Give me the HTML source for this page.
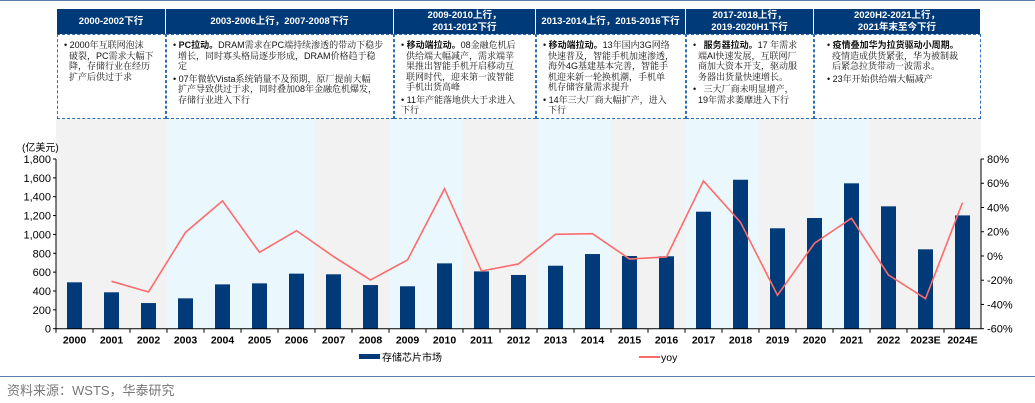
<!DOCTYPE html>
<html><head><meta charset="utf-8">
<style>
body{margin:0;width:1035px;height:403px;background:#fff;position:relative;overflow:hidden;font-family:"Liberation Sans","Noto Sans CJK SC",sans-serif}
.hdr{position:absolute;top:9px;height:25px;background:#003a78;color:#fff;font-size:9.5px;font-weight:bold;display:flex;align-items:center;justify-content:center;text-align:center;line-height:12px;box-sizing:border-box;border-right:1px solid #fff}
.box{position:absolute;top:34px;height:85px;border:1px dashed #2e6db4;box-sizing:border-box;background:#fff;font-size:9px;line-height:10.5px;color:#111;padding:5px 4px 0 6px;white-space:nowrap;font-family:"Liberation Sans","Noto Serif CJK SC",serif}
.box b{font-family:"Liberation Sans","Noto Sans CJK SC",sans-serif}
.sp{height:2px}
svg{position:absolute;left:0;top:0}
</style></head><body>
<div style="position:absolute;left:0;top:0;width:1035px;height:1px;background:#5a80aa"></div>
<div class="hdr" style="left:57px;width:109px">2000-2002下行</div>
<div class="hdr" style="left:166px;width:228px">2003-2006上行，2007-2008下行</div>
<div class="hdr" style="left:394px;width:142px">2009-2010上行，<br>2011-2012下行</div>
<div class="hdr" style="left:536px;width:150px">2013-2014上行，2015-2016下行</div>
<div class="hdr" style="left:686px;width:128px">2017-2018上行，<br>2019-2020H1下行</div>
<div class="hdr" style="left:814px;width:167px">2020H2-2021上行，<br>2021年末至今下行</div>
<div class="box" style="left:57px;width:109px">• 2000年互联网泡沫<br>&nbsp;&nbsp;破裂，PC需求大幅下<br>&nbsp;&nbsp;降，存储行业在经历<br>&nbsp;&nbsp;扩产后供过于求</div>
<div class="box" style="left:166px;width:228px">• <b>PC拉动。</b>DRAM需求在PC端持续渗透的带动下稳步<br>&nbsp;&nbsp;增长，同时寡头格局逐步形成，DRAM价格趋于稳<br>&nbsp;&nbsp;定<div class="sp"></div>• 07年微软Vista系统销量不及预期，原厂提前大幅<br>&nbsp;&nbsp;扩产导致供过于求，同时叠加08年金融危机爆发，<br>&nbsp;&nbsp;存储行业进入下行</div>
<div class="box" style="left:394px;width:142px">• <b>移动端拉动。</b>08金融危机后<br>&nbsp;&nbsp;供给端大幅减产，需求端苹<br>&nbsp;&nbsp;果推出智能手机开启移动互<br>&nbsp;&nbsp;联网时代，迎来第一波智能<br>&nbsp;&nbsp;手机出货高峰<div class="sp"></div>• 11年产能落地供大于求进入<br>下行</div>
<div class="box" style="left:536px;width:150px">• <b>移动端拉动。</b>13年国内3G网络<br>&nbsp;&nbsp;快速普及，智能手机加速渗透，<br>&nbsp;&nbsp;海外4G基建基本完善，智能手<br>&nbsp;&nbsp;机迎来新一轮换机潮，手机单<br>&nbsp;&nbsp;机存储容量需求提升<div class="sp"></div>• 14年三大厂商大幅扩产，进入<br>&nbsp;&nbsp;下行</div>
<div class="box" style="left:686px;width:128px">•&nbsp;&nbsp;&nbsp;<b>服务器拉动。</b>17 年需求<br>&nbsp;&nbsp;端AI快速发展，互联网厂<br>&nbsp;&nbsp;商加大资本开支，驱动服<br>&nbsp;&nbsp;务器出货量快速增长。<div class="sp"></div>•&nbsp;&nbsp;&nbsp;三大厂商未明显增产，<br>&nbsp;&nbsp;19年需求萎靡进入下行</div>
<div class="box" style="left:814px;width:167px;padding-left:12px">• <b>疫情叠加华为拉货驱动小周期。</b><br>&nbsp;&nbsp;疫情造成供货紧张，华为被制裁<br>&nbsp;&nbsp;后紧急拉货带动一波需求。<div class="sp"></div>• 23年开始供给端大幅减产</div>
<svg id="chart" width="1035" height="403" style="z-index:-1"></svg>
<div style="position:absolute;left:0;top:376px;width:1035px;height:1px;background:#5a80aa"></div>
<div style="position:absolute;left:7px;top:380px;font-size:13px;color:#777">资料来源：WSTS，华泰研究</div>
<script>
const categories=["2000","2001","2002","2003","2004","2005","2006","2007","2008","2009","2010","2011","2012","2013","2014","2015","2016","2017","2018","2019","2020","2021","2022","2023E","2024E"];
const marketValues=[492,386,272,322,470,481,584,577,463,450,693,608,570,668,792,771,768,1241,1580,1065,1174,1542,1298,842,1202];
const yoyValues=[null,-20.9,-29.7,19.5,45.4,3,20.9,-0.5,-19.8,-3.3,55.5,-12.4,-6.6,17.9,18.4,-2.5,-0.8,61.9,27.8,-32.4,10.5,31.1,-15.7,-35.2,44];
const leftTicks=[0,200,400,600,800,1000,1200,1400,1600,1800];
const rightTicks=[-60,-40,-20,0,20,40,60,80];
const bands=[[0,3,"#f2f2f2"],[3,7,"#eaf7fd"],[7,9,"#f2f2f2"],[9,11,"#eaf7fd"],[11,13,"#f2f2f2"],[13,15,"#eaf7fd"],[15,17,"#f2f2f2"],[17,19,"#eaf7fd"],[19,20.5,"#f2f2f2"],[20.5,22,"#eaf7fd"],[22,25,"#f2f2f2"]];
const X0=56,X1=981,YT=159,YB=328.7;
const bw=(X1-X0)/categories.length;
const xs=i=>X0+bw*i;
const xc=i=>X0+bw*(i+0.5);
const yl=v=>YB-(v/1800)*(YB-YT);
const yr=v=>YB-((v+60)/140)*(YB-YT);
const svg=document.getElementById('chart');
const NS="http://www.w3.org/2000/svg";
function mk(t,a,txt){const e=document.createElementNS(NS,t);for(const k in a)e.setAttribute(k,a[k]);if(txt!=null)e.textContent=txt;svg.appendChild(e);return e;}
bands.forEach(b=>{const e=mk('rect',{x:xs(b[0]),y:119,width:xs(b[1])-xs(b[0]),height:YB-119,fill:b[2]});

});
marketValues.forEach((v,i)=>{const e=mk('rect',{x:xc(i)-7.5,y:yl(v),width:15,height:YB-yl(v),fill:'#003a78'});

});
let d='';yoyValues.forEach((v,i)=>{if(v==null)return;d+=(d?'L':'M')+xc(i)+' '+yr(v);});
const ln=mk('path',{d:d,fill:'none',stroke:'#ff6b6b','stroke-width':1.6});


mk('line',{x1:X0,y1:YT,x2:X0,y2:YB,stroke:'#000','stroke-width':1});
mk('line',{x1:X1,y1:YT,x2:X1,y2:YB,stroke:'#000','stroke-width':1});
mk('line',{x1:X0,y1:YB,x2:X1,y2:YB,stroke:'#000','stroke-width':1});
leftTicks.forEach(t=>{mk('line',{x1:X0-3,y1:yl(t),x2:X0,y2:yl(t),stroke:'#000'});
const e=mk('text',{x:X0-5,y:yl(t)+4,'text-anchor':'end','font-size':11,fill:'#000'},t.toLocaleString('en-US'));

});
rightTicks.forEach(t=>{mk('line',{x1:X1,y1:yr(t),x2:X1+3,y2:yr(t),stroke:'#000'});
const e=mk('text',{x:X1+6,y:yr(t)+4,'font-size':11,fill:'#000'},t+'%');

});
categories.forEach((c,i)=>{mk('line',{x1:xs(i),y1:YB,x2:xs(i),y2:YB+4,stroke:'#000'});
const e=mk('text',{x:xc(i),y:YB+15,'text-anchor':'middle','font-size':10.5,'font-weight':'bold',fill:'#000'},c);

});
const u=mk('text',{x:22,y:151,'font-size':10,fill:'#000'},'(亿美元)');


mk('rect',{x:359,y:354,width:21,height:5,fill:'#003a78'});
const l1=mk('text',{x:382,y:361,'font-size':10,fill:'#000'},'存储芯片市场');


mk('line',{x1:639,y1:357,x2:660,y2:357,stroke:'#ff6b6b','stroke-width':2});
const l2=mk('text',{x:661,y:361,'font-size':10.5,fill:'#000'},'yoy');


</script>
</body></html>
